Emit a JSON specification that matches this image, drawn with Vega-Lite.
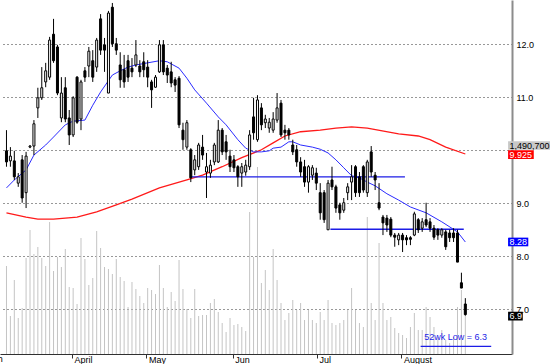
{
 "$schema": "https://vega.github.io/schema/vega-lite/v6.json",
 "width": 512, "height": 354,
 "autosize": {"type": "none"},
 "padding": {"left": 0, "top": 0, "right": 38, "bottom": 10},
 "background": "white",
 "config": {"view": {"stroke": null}, "font": "Liberation Sans"},
 "datasets": {
  "bars": [
   {"i":0,"o":9.99,"h":10.38,"l":9.69,"c":9.78,"v":2992},
   {"i":1,"o":9.80,"h":10.06,"l":9.69,"c":9.89,"v":1292},
   {"i":2,"o":9.80,"h":9.99,"l":9.44,"c":9.50,"v":2516},
   {"i":3,"o":9.38,"h":9.57,"l":9.31,"c":9.50,"v":1224},
   {"i":4,"o":9.82,"h":9.91,"l":9.01,"c":9.10,"v":1564},
   {"i":5,"o":9.20,"h":9.97,"l":8.91,"c":9.89,"v":3264},
   {"i":6,"o":10.06,"h":10.10,"l":10.04,"c":10.08,"v":4216},
   {"i":7,"o":10.08,"h":10.57,"l":9.91,"c":10.50,"v":3400},
   {"i":8,"o":10.80,"h":11.18,"l":10.61,"c":10.99,"v":3638},
   {"i":9,"o":10.99,"h":11.57,"l":10.95,"c":11.18,"v":3264},
   {"i":10,"o":11.29,"h":11.65,"l":11.19,"c":11.50,"v":2992},
   {"i":11,"o":11.38,"h":12.14,"l":11.33,"c":12.08,"v":4488},
   {"i":12,"o":12.19,"h":12.48,"l":11.65,"c":11.69,"v":2822},
   {"i":13,"o":11.95,"h":11.99,"l":11.04,"c":11.08,"v":3298},
   {"i":14,"o":10.61,"h":11.38,"l":10.53,"c":11.08,"v":2958},
   {"i":15,"o":11.18,"h":11.38,"l":10.53,"c":10.59,"v":3570},
   {"i":16,"o":10.61,"h":10.76,"l":10.10,"c":10.29,"v":2278},
   {"i":17,"o":10.29,"h":11.02,"l":10.25,"c":10.99,"v":2244},
   {"i":18,"o":11.38,"h":11.40,"l":10.50,"c":10.53,"v":1700},
   {"i":19,"o":10.59,"h":11.33,"l":10.38,"c":11.29,"v":3944},
   {"i":20,"o":11.50,"h":11.57,"l":11.29,"c":11.38,"v":3230},
   {"i":21,"o":11.59,"h":11.95,"l":11.38,"c":11.87,"v":2346},
   {"i":22,"o":11.69,"h":11.89,"l":11.29,"c":11.38,"v":2584},
   {"i":23,"o":11.57,"h":12.12,"l":11.48,"c":12.08,"v":4182},
   {"i":24,"o":12.48,"h":12.57,"l":11.80,"c":11.89,"v":3604},
   {"i":25,"o":11.99,"h":12.12,"l":11.48,"c":11.89,"v":2958},
   {"i":26,"o":11.08,"h":12.63,"l":11.08,"c":12.59,"v":2890},
   {"i":27,"o":12.70,"h":12.78,"l":11.95,"c":12.01,"v":2720},
   {"i":28,"o":12.01,"h":12.12,"l":11.80,"c":11.89,"v":3230},
   {"i":29,"o":11.61,"h":11.85,"l":11.18,"c":11.33,"v":2618},
   {"i":30,"o":11.52,"h":11.80,"l":11.18,"c":11.29,"v":2482},
   {"i":31,"o":11.69,"h":11.80,"l":11.29,"c":11.38,"v":1598},
   {"i":32,"o":11.55,"h":11.74,"l":11.38,"c":11.48,"v":2448},
   {"i":33,"o":11.61,"h":12.08,"l":11.57,"c":11.80,"v":2210},
   {"i":34,"o":11.59,"h":11.70,"l":11.38,"c":11.48,"v":1972},
   {"i":35,"o":11.67,"h":11.85,"l":11.38,"c":11.52,"v":1734},
   {"i":36,"o":11.57,"h":11.70,"l":11.19,"c":11.38,"v":2244},
   {"i":37,"o":11.29,"h":11.33,"l":10.80,"c":11.14,"v":2176},
   {"i":38,"o":11.19,"h":11.42,"l":11.18,"c":11.38,"v":2040},
   {"i":39,"o":11.48,"h":12.08,"l":11.46,"c":11.99,"v":3026},
   {"i":40,"o":11.99,"h":12.08,"l":11.42,"c":11.48,"v":2244},
   {"i":41,"o":11.55,"h":11.61,"l":11.27,"c":11.42,"v":1598},
   {"i":42,"o":11.48,"h":11.67,"l":11.19,"c":11.27,"v":2108},
   {"i":43,"o":11.33,"h":11.38,"l":11.10,"c":11.23,"v":1802},
   {"i":44,"o":11.36,"h":11.40,"l":10.42,"c":10.48,"v":3196},
   {"i":45,"o":10.38,"h":10.52,"l":10.01,"c":10.20,"v":2210},
   {"i":46,"o":10.06,"h":10.57,"l":10.01,"c":10.52,"v":1530},
   {"i":47,"o":10.01,"h":10.04,"l":9.40,"c":9.48,"v":1224},
   {"i":48,"o":9.63,"h":9.91,"l":9.53,"c":9.82,"v":2210},
   {"i":49,"o":9.69,"h":10.14,"l":9.63,"c":10.10,"v":1292},
   {"i":50,"o":10.06,"h":10.29,"l":9.82,"c":9.91,"v":1326},
   {"i":51,"o":9.59,"h":9.95,"l":9.10,"c":9.69,"v":1326},
   {"i":52,"o":9.57,"h":9.82,"l":9.48,"c":9.72,"v":1734},
   {"i":53,"o":9.78,"h":10.14,"l":9.72,"c":10.10,"v":1870},
   {"i":54,"o":9.78,"h":10.57,"l":9.76,"c":10.38,"v":1428},
   {"i":55,"o":10.38,"h":10.42,"l":9.91,"c":9.97,"v":1054},
   {"i":56,"o":10.16,"h":10.29,"l":9.82,"c":9.97,"v":748},
   {"i":57,"o":9.89,"h":10.01,"l":9.59,"c":9.69,"v":1224},
   {"i":58,"o":9.82,"h":9.91,"l":9.59,"c":9.67,"v":986},
   {"i":59,"o":9.69,"h":9.72,"l":9.31,"c":9.50,"v":1020},
   {"i":60,"o":9.57,"h":9.76,"l":9.31,"c":9.69,"v":918},
   {"i":61,"o":9.59,"h":9.82,"l":9.52,"c":9.72,"v":782},
   {"i":62,"o":9.69,"h":10.38,"l":9.63,"c":10.29,"v":4828},
   {"i":63,"o":10.63,"h":10.99,"l":10.20,"c":10.33,"v":3298},
   {"i":64,"o":10.20,"h":11.04,"l":10.16,"c":10.95,"v":6358},
   {"i":65,"o":10.80,"h":10.89,"l":10.38,"c":10.48,"v":2414},
   {"i":66,"o":10.52,"h":10.67,"l":10.42,"c":10.59,"v":2856},
   {"i":67,"o":10.42,"h":10.61,"l":10.33,"c":10.53,"v":2176},
   {"i":68,"o":10.38,"h":10.72,"l":10.33,"c":10.59,"v":3570},
   {"i":69,"o":10.57,"h":11.08,"l":10.52,"c":10.80,"v":2516},
   {"i":70,"o":10.89,"h":10.95,"l":10.25,"c":10.29,"v":1734},
   {"i":71,"o":10.38,"h":10.48,"l":10.20,"c":10.33,"v":1156},
   {"i":72,"o":10.38,"h":10.42,"l":10.20,"c":10.29,"v":1394},
   {"i":73,"o":10.10,"h":10.20,"l":9.91,"c":9.97,"v":1836},
   {"i":74,"o":10.01,"h":10.10,"l":9.69,"c":9.78,"v":1496},
   {"i":75,"o":9.78,"h":9.87,"l":9.50,"c":9.59,"v":1734},
   {"i":76,"o":9.69,"h":9.82,"l":9.31,"c":9.40,"v":1156},
   {"i":77,"o":9.40,"h":9.72,"l":9.20,"c":9.69,"v":1496},
   {"i":78,"o":9.53,"h":9.72,"l":9.44,"c":9.67,"v":1156},
   {"i":79,"o":9.57,"h":9.67,"l":9.25,"c":9.38,"v":1054},
   {"i":80,"o":9.20,"h":9.38,"l":8.69,"c":8.82,"v":1428},
   {"i":81,"o":9.20,"h":9.25,"l":8.63,"c":8.69,"v":1156},
   {"i":82,"o":8.50,"h":9.44,"l":8.50,"c":9.38,"v":1836},
   {"i":83,"o":9.44,"h":9.69,"l":9.25,"c":9.31,"v":1054},
   {"i":84,"o":9.31,"h":9.35,"l":8.82,"c":8.91,"v":986},
   {"i":85,"o":8.97,"h":9.01,"l":8.69,"c":8.82,"v":1054},
   {"i":86,"o":8.87,"h":9.10,"l":8.82,"c":9.01,"v":1156},
   {"i":87,"o":9.20,"h":9.38,"l":9.06,"c":9.31,"v":1496},
   {"i":88,"o":9.40,"h":9.72,"l":9.06,"c":9.50,"v":2244},
   {"i":89,"o":9.69,"h":9.72,"l":9.12,"c":9.20,"v":1496},
   {"i":90,"o":9.50,"h":9.59,"l":9.12,"c":9.20,"v":1054},
   {"i":91,"o":9.69,"h":9.72,"l":9.20,"c":9.25,"v":918},
   {"i":92,"o":9.20,"h":9.82,"l":9.12,"c":9.78,"v":4658},
   {"i":93,"o":9.97,"h":10.08,"l":9.50,"c":9.59,"v":1734},
   {"i":94,"o":9.53,"h":9.59,"l":9.25,"c":9.44,"v":1156},
   {"i":95,"o":9.01,"h":9.38,"l":8.87,"c":8.91,"v":3774},
   {"i":96,"o":8.74,"h":8.78,"l":8.40,"c":8.63,"v":1734},
   {"i":97,"o":8.72,"h":8.78,"l":8.46,"c":8.59,"v":1156},
   {"i":98,"o":8.70,"h":8.74,"l":8.36,"c":8.40,"v":1258},
   {"i":99,"o":8.40,"h":8.44,"l":8.18,"c":8.36,"v":884},
   {"i":100,"o":8.31,"h":8.44,"l":8.21,"c":8.40,"v":714},
   {"i":101,"o":8.40,"h":8.44,"l":8.08,"c":8.31,"v":646},
   {"i":102,"o":8.35,"h":8.40,"l":8.21,"c":8.31,"v":544},
   {"i":103,"o":8.35,"h":8.38,"l":8.21,"c":8.32,"v":918},
   {"i":104,"o":8.40,"h":8.84,"l":8.38,"c":8.80,"v":1394},
   {"i":105,"o":8.69,"h":8.72,"l":8.44,"c":8.50,"v":816},
   {"i":106,"o":8.53,"h":8.72,"l":8.46,"c":8.65,"v":816},
   {"i":107,"o":8.69,"h":9.01,"l":8.55,"c":8.59,"v":1598},
   {"i":108,"o":8.65,"h":8.72,"l":8.46,"c":8.53,"v":1258},
   {"i":109,"o":8.53,"h":8.59,"l":8.31,"c":8.36,"v":918},
   {"i":110,"o":8.50,"h":8.53,"l":8.31,"c":8.40,"v":578},
   {"i":111,"o":8.40,"h":8.53,"l":8.35,"c":8.50,"v":816},
   {"i":112,"o":8.46,"h":8.50,"l":8.12,"c":8.18,"v":476},
   {"i":113,"o":8.44,"h":8.50,"l":8.27,"c":8.35,"v":374},
   {"i":114,"o":8.44,"h":8.53,"l":8.27,"c":8.35,"v":578},
   {"i":115,"o":8.44,"h":8.50,"l":7.89,"c":7.89,"v":1598},
   {"i":116,"o":7.50,"h":7.69,"l":7.40,"c":7.40,"v":2176},
   {"i":117,"o":7.10,"h":7.21,"l":6.88,"c":6.90,"v":1490.7}
  ],
  "ma20": [
   {"i":0,"p":9.29},{"i":2,"p":9.44},{"i":5,"p":9.63},{"i":7,"p":9.91},{"i":10,"p":10.10},
   {"i":12,"p":10.25},{"i":15,"p":10.48},{"i":17,"p":10.55},{"i":20,"p":10.57},{"i":22,"p":10.85},
   {"i":24,"p":11.10},{"i":27,"p":11.42},{"i":29,"p":11.50},{"i":31,"p":11.57},{"i":33,"p":11.61},
   {"i":36,"p":11.65},{"i":39,"p":11.69},{"i":41,"p":11.67},{"i":44,"p":11.55},{"i":46,"p":11.36},
   {"i":48,"p":11.14},{"i":51,"p":10.89},{"i":54,"p":10.63},{"i":56,"p":10.48},{"i":59,"p":10.20},
   {"i":61,"p":10.04},{"i":63,"p":9.97},{"i":65,"p":9.97},{"i":67,"p":9.99},{"i":68,"p":10.04},
   {"i":70,"p":10.06},{"i":72,"p":10.16},{"i":73,"p":10.16},{"i":75,"p":10.10},{"i":78,"p":10.06},
   {"i":80,"p":10.02},{"i":82,"p":9.95},{"i":84,"p":9.82},{"i":86,"p":9.67},{"i":88,"p":9.52},
   {"i":90,"p":9.48},{"i":92,"p":9.40},{"i":94,"p":9.33},{"i":97,"p":9.18},{"i":100,"p":9.06},
   {"i":103,"p":8.93},{"i":107,"p":8.82},{"i":111,"p":8.65},{"i":115,"p":8.46},{"i":117,"p":8.27}
  ],
  "ma50": [
   {"i":0,"p":8.82},{"i":5,"p":8.74},{"i":8,"p":8.70},{"i":12,"p":8.70},{"i":18,"p":8.74},
   {"i":23,"p":8.84},{"i":28,"p":8.97},{"i":32,"p":9.08},{"i":39,"p":9.29},{"i":46,"p":9.44},
   {"i":50,"p":9.53},{"i":55,"p":9.69},{"i":60,"p":9.86},{"i":65,"p":10.01},{"i":68,"p":10.14},
   {"i":71,"p":10.27},{"i":75,"p":10.35},{"i":80,"p":10.38},{"i":84,"p":10.42},{"i":88,"p":10.44},
   {"i":92,"p":10.42},{"i":100,"p":10.31},{"i":105,"p":10.27},{"i":108,"p":10.20},{"i":112,"p":10.06},
   {"i":117,"p":9.93}
  ],
  "levels": [
   {"p":9.50,"i":46.9,"i2":101.6},
   {"p":8.51,"i":82.6,"i2":116.6},
   {"p":6.30,"i":105.6,"i2":123.6}
  ],
  "tags": [
   {"p":10.09,"t":"1,490,700","k":"vol"},
   {"p":9.92,"t":"9.925","k":"ma50"},
   {"p":8.27,"t":"8.28","k":"ma20"},
   {"p":6.87,"t":"6.9","k":"last"}
  ],
  "notes": [
   {"i":114.5,"p":6.48,"t":"52wk Low = 6.3"}
  ],
  "offscale": [
   {"i":-7.85,"m":"March"}
  ]
 },
 "encoding": {
  "x": {"field": "i", "type": "quantitative",
   "scale": {"domain": [-0.375, 127.625], "nice": false, "zero": false},
   "axis": {"orient": "bottom", "title": null, "grid": false,
    "values": [16.7, 35.7, 57.7, 79.2, 100.7],
    "labelExpr": "datum.value < 20 ? 'April' : datum.value < 40 ? 'May' : datum.value < 60 ? 'Jun' : datum.value < 90 ? 'Jul' : 'August'",
    "domain": true, "domainColor": "#303030", "domainWidth": 1,
    "ticks": true, "tickColor": "#303030", "tickSize": 4,
    "labelAlign": "left", "labelBaseline": "top", "labelPadding": -3, "labelOffset": 2, "labelAngle": 0,
    "labelFont": "Liberation Sans", "labelFontSize": 9, "labelColor": "#000000",
    "labelFlush": false, "labelOverlap": false, "labelBound": false}}
 },
 "layer": [
  {"data": {"name": "bars"},
   "mark": {"type": "rule", "color": "#c4c4c4", "strokeWidth": 1},
   "encoding": {
    "y": {"field": "v", "type": "quantitative", "scale": {"domain": [0, 12036], "nice": false, "zero": true}, "axis": null},
    "y2": {"datum": 0}}},
  {"data": {"name": "ma50"},
   "mark": {"type": "line", "color": "#ff1a1a", "strokeWidth": 1.3},
   "encoding": {
    "y": {"field": "p", "type": "quantitative", "scale": {"domain": [6.156, 12.836], "nice": false, "zero": false}, "axis": null}}},
  {"data": {"name": "ma20"},
   "mark": {"type": "line", "color": "#2b2bff", "strokeWidth": 1},
   "encoding": {
    "y": {"field": "p", "type": "quantitative", "scale": {"domain": [6.156, 12.836], "nice": false, "zero": false}, "axis": null}}},
  {"data": {"name": "levels"},
   "mark": {"type": "rule", "color": "#1c1ce6", "strokeWidth": 1.3},
   "encoding": {
    "x2": {"field": "i2"},
    "y": {"field": "p", "type": "quantitative", "scale": {"domain": [6.156, 12.836], "nice": false, "zero": false}, "axis": null}}},
  {"data": {"name": "bars"},
   "mark": {"type": "rule", "color": "#000000", "strokeWidth": 1},
   "encoding": {
    "y": {"field": "l", "type": "quantitative", "scale": {"domain": [6.156, 12.836], "nice": false, "zero": false},
     "axis": {"orient": "right", "title": null, "values": [7, 8, 9, 10, 11, 12],
      "labelExpr": "datum.value == 10 ? '' : format(datum.value, '.1f')",
      "grid": true, "gridColor": "#303030", "gridDash": [1, 3], "gridWidth": 1,
      "domain": true, "domainColor": "#8c8c8c", "domainWidth": 2,
      "ticks": false, "labelPadding": 4, "labelAlign": "left", "labelBaseline": "middle",
      "labelFont": "Liberation Sans", "labelFontSize": 9, "labelColor": "#000000"}},
    "y2": {"field": "h"}}},
  {"data": {"name": "bars"},
   "mark": {"type": "bar", "size": 2, "stroke": "#000000", "strokeWidth": 1},
   "encoding": {
    "y": {"field": "o", "type": "quantitative", "scale": {"domain": [6.156, 12.836], "nice": false, "zero": false}, "axis": null},
    "y2": {"field": "c"},
    "fill": {"condition": {"test": "datum.c < datum.o", "value": "#000000"}, "value": "#ffffff"}}},
  {"data": {"name": "tags"},
   "transform": [
    {"calculate": "127.9", "as": "i"},
    {"calculate": "datum.p + 0.082", "as": "top"},
    {"calculate": "datum.p - 0.082", "as": "bot"},
    {"calculate": "127.9 + ((length(datum.t) - 1) * 5.6 + 3.8) / 4", "as": "right"}
   ],
   "mark": {"type": "rect"},
   "encoding": {
    "x2": {"field": "right"},
    "y": {"field": "top", "type": "quantitative", "scale": {"domain": [6.156, 12.836], "nice": false, "zero": false}, "axis": null},
    "y2": {"field": "bot"},
    "fill": {"field": "k", "type": "nominal", "legend": null,
     "scale": {"domain": ["vol", "ma50", "ma20", "last"], "range": ["#c8c8c8", "#ff0000", "#0000ff", "#000000"]}}}},
  {"data": {"name": "tags"},
   "transform": [{"calculate": "127.9", "as": "i"}],
   "mark": {"type": "text", "align": "left", "baseline": "middle", "dx": 1.5, "font": "Liberation Sans", "fontSize": 9},
   "encoding": {
    "y": {"field": "p", "type": "quantitative", "scale": {"domain": [6.156, 12.836], "nice": false, "zero": false}, "axis": null},
    "text": {"field": "t"},
    "color": {"condition": {"test": "datum.k == 'vol'", "value": "#000000"}, "value": "#ffffff"}}},
  {"data": {"name": "notes"},
   "mark": {"type": "text", "align": "center", "baseline": "middle", "font": "Liberation Sans", "fontSize": 9, "color": "#1c1ce6"},
   "encoding": {
    "y": {"field": "p", "type": "quantitative", "scale": {"domain": [6.156, 12.836], "nice": false, "zero": false}, "axis": null},
    "text": {"field": "t"}}},
  {"data": {"name": "offscale"},
   "mark": {"type": "text", "align": "left", "baseline": "top", "dx": 2, "dy": 1, "font": "Liberation Sans", "fontSize": 9, "color": "#000000"},
   "encoding": {
    "y": {"datum": 6.156, "type": "quantitative", "scale": {"domain": [6.156, 12.836], "nice": false, "zero": false}, "axis": null},
    "text": {"field": "m"}}}
 ],
 "resolve": {"scale": {"y": "independent"}}
}
